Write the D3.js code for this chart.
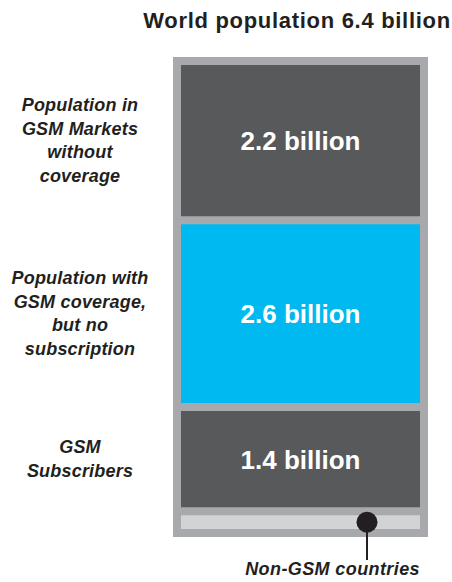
<!DOCTYPE html>
<html>
<head>
<meta charset="utf-8">
<script src="https://cdn.jsdelivr.net/npm/d3@7"></script>
<style>
  html, body { margin: 0; padding: 0; background: #fff; }
  svg { display: block; font-family: "Liberation Sans", Arial, sans-serif; }
</style>
</head>
<body>
<svg id="chart"></svg>
<script>
// Population split (billions), top to bottom in the stack
const segments = ["no-coverage", "coverage-no-sub", "subscribers", "non-gsm"];
const values = [2.2, 2.6, 1.4, 0.2];
const valueLabels = ["2.2 billion", "2.6 billion", "1.4 billion", ""];
const sideLabels = [
  ["Population in", "GSM Markets", "without", "coverage"],
  ["Population with", "GSM coverage,", "but no", "subscription"],
  ["GSM", "Subscribers"],
  []
];
const fills = ["#58595b", "#00b9f0", "#58595b", "#d1d3d4"];
const titleText = "World population 6.4 billion";
const calloutText = "Non-GSM countries";

const width = 452, height = 582;
const frame = { left: 173, right: 428, top: 57, bottom: 537 };
const pad = 8;   // grey border and gap between blocks
const inner = { left: frame.left + pad, right: frame.right - pad, top: frame.top + pad, bottom: frame.bottom - pad };

const svg = d3.select("#chart").attr("width", width).attr("height", height);

const total = d3.sum(values);
const starts = [0, ...d3.cumsum(values)];
const gapTotal = pad * (values.length - 1);

const y = d3.scaleLinear()
  .domain([0, total])
  .range([inner.top, inner.bottom - gapTotal]);

const blockTop = (i) => y(starts[i]) + i * pad;
const blockBottom = (i) => y(starts[i + 1]) + i * pad;

// Title
svg.append("text")
  .attr("x", 297)
  .attr("y", 28)
  .attr("text-anchor", "middle")
  .attr("font-size", 22)
  .attr("font-weight", "bold")
  .attr("letter-spacing", 0.7)
  .attr("fill", "#231f20")
  .text(titleText);

// Grey frame
svg.append("rect")
  .attr("x", frame.left).attr("y", frame.top)
  .attr("width", frame.right - frame.left)
  .attr("height", frame.bottom - frame.top)
  .attr("fill", "#a7a9ac");

// Blocks
svg.selectAll("rect.block")
  .data(values)
  .join("rect")
  .attr("class", "block")
  .attr("x", inner.left)
  .attr("y", (d, i) => blockTop(i))
  .attr("width", inner.right - inner.left)
  .attr("height", (d, i) => blockBottom(i) - blockTop(i))
  .attr("fill", (d, i) => fills[i]);

// Value labels inside blocks
const cx = (inner.left + inner.right) / 2;
svg.selectAll("text.value")
  .data(valueLabels)
  .join("text")
  .attr("class", "value")
  .attr("x", cx)
  .attr("y", (d, i) => (blockTop(i) + blockBottom(i)) / 2 + 9.5)
  .attr("text-anchor", "middle")
  .attr("font-size", 26)
  .attr("font-weight", "bold")
  .attr("fill", "#fff")
  .text(d => d);

// Side labels, centred on each block
const lineH = 23.5;
sideLabels.forEach((lines, i) => {
  if (!lines.length) return;
  const mid = (blockTop(i) + blockBottom(i)) / 2;
  const first = mid - (lines.length - 1) * lineH / 2 + 6;
  const t = svg.append("text")
    .attr("text-anchor", "middle")
    .attr("font-size", 18)
    .attr("font-weight", "bold")
    .attr("font-style", "italic")
    .attr("letter-spacing", 0.2)
    .attr("fill", "#231f20");
  lines.forEach((ln, j) => {
    t.append("tspan")
      .attr("x", 80)
      .attr("y", first + j * lineH)
      .text(ln);
  });
});

// Callout for the non-GSM sliver
const last = values.length - 1;
const dotY = (blockTop(last) + blockBottom(last)) / 2;
const dotX = 367;
svg.append("line")
  .attr("x1", dotX).attr("x2", dotX)
  .attr("y1", dotY).attr("y2", 560)
  .attr("stroke", "#231f20")
  .attr("stroke-width", 2);
svg.append("circle")
  .attr("cx", dotX).attr("cy", dotY)
  .attr("r", 10.5)
  .attr("fill", "#231f20");
svg.append("text")
  .attr("x", inner.right)
  .attr("y", 575)
  .attr("text-anchor", "end")
  .attr("font-size", 18)
  .attr("font-weight", "bold")
  .attr("font-style", "italic")
  .attr("letter-spacing", 0.4)
  .attr("fill", "#231f20")
  .text(calloutText);
</script>
</body>
</html>
